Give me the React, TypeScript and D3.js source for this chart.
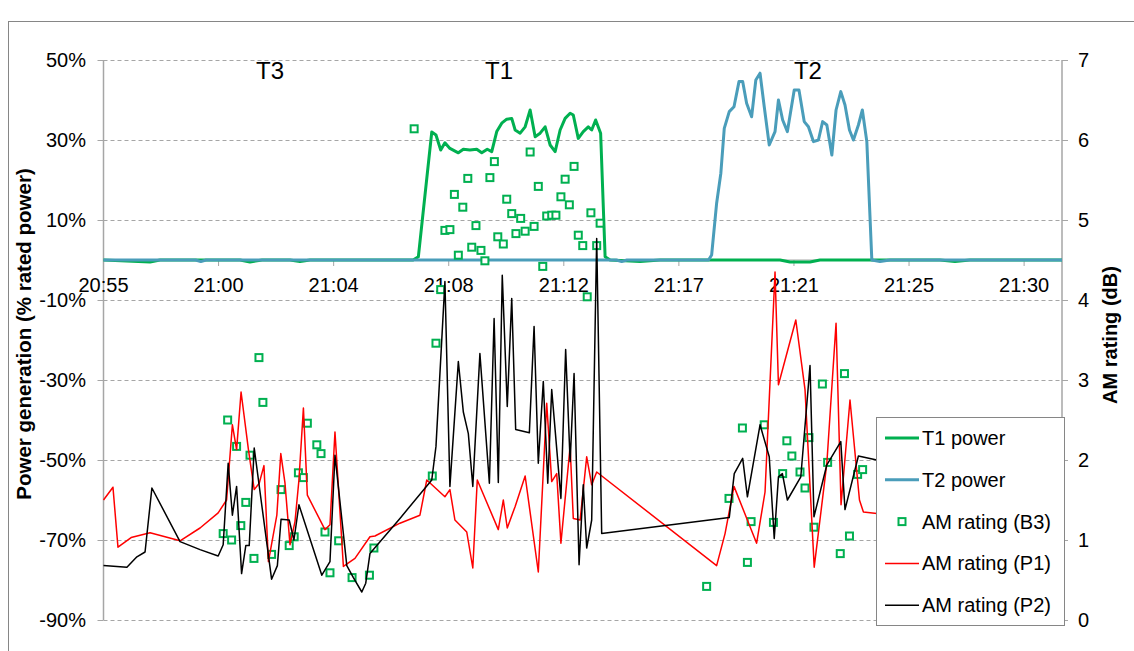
import React from "react";
import * as d3 from "d3";

// ---------- DATA (minutes after 20:55) ----------
const timeLabels = ["20:55", "21:00", "21:04", "21:08", "21:12", "21:17", "21:21", "21:25", "21:30"];
const tickStepMin = 35 / 8;
const leftTicks = [-90, -70, -50, -30, -10, 10, 30, 50];
const rightTicks = [0, 1, 2, 3, 4, 5, 6, 7];
const turbineLabels = ["T3", "T1", "T2"];
const turbineLabelMin = [6.33, 15.04, 26.78];

const t1Min = [0, 1.77, 2.15, 5.19, 5.57, 6.03, 7.09, 7.47, 7.85, 11.77, 11.97, 12.48, 12.64, 12.82, 12.98, 13.17, 13.49, 13.68, 13.93, 14.19, 14.38, 14.59, 14.76, 14.95, 15.14, 15.33, 15.52, 15.65, 15.84, 16.03, 16.22, 16.41, 16.6, 16.79, 16.98, 17.17, 17.36, 17.55, 17.74, 17.86, 18.05, 18.24, 18.43, 18.56, 18.71, 18.9, 19.07, 19.26, 20.4, 21.16, 25.72, 26.1, 26.86, 27.24, 31.8, 32.37, 32.94, 36.44];
const t1Pct = [0, -0.5, 0, 0, -0.5, 0, 0, -0.4, 0, 0, 0.8, 32, 31.25, 27.5, 29.3, 27.9, 26.8, 27.7, 27.5, 27.7, 26.8, 27.7, 27.1, 32.1, 34.2, 35.2, 35.4, 32.5, 31.7, 33.3, 37.5, 30.8, 31.7, 33.3, 28.75, 27.1, 32.5, 35.4, 36.7, 36.25, 30.4, 32.1, 33.3, 32.5, 35, 31.7, 0.8, 0, -0.4, 0, 0, -0.5, -0.5, 0, 0, -0.4, 0, 0];

const t2Min = [0, 3.5, 3.7, 3.9, 19.5, 19.7, 19.9, 23.0, 23.12, 23.31, 23.47, 23.6, 23.79, 23.97, 24.16, 24.3, 24.45, 24.64, 24.8, 24.96, 25.12, 25.31, 25.53, 25.66, 25.82, 26.0, 26.26, 26.44, 26.64, 26.8, 26.99, 27.18, 27.34, 27.5, 27.69, 27.85, 28.03, 28.19, 28.36, 28.51, 28.7, 28.85, 29.02, 29.21, 29.52, 29.9, 36.44];
const t2Pct = [0, 0, -0.4, 0, 0, -0.4, 0, 0, 1.25, 14.2, 21.7, 32.9, 37.1, 38.3, 44.6, 44.6, 39.2, 35.8, 45, 46.7, 38.3, 28.75, 32.1, 40, 35, 32.1, 42.5, 42.5, 34.6, 33.3, 29.6, 30, 34.6, 33.75, 26.25, 37.5, 42.1, 38.75, 32.5, 30, 33.75, 37.5, 29.6, 0, -0.4, 0, 0];

const b3Min = [5.91, 6.06, 4.72, 5.06, 5.57, 7.75, 8.11, 8.27, 7.41, 7.6, 6.75, 5.41, 4.55, 4.87, 5.22, 7.25, 7.06, 8.42, 8.94, 6.39, 5.72, 10.28, 8.61, 9.45, 10.11, 11.81, 16.22, 14.86, 17.89, 13.85, 14.69, 17.55, 13.34, 16.53, 17.39, 13.66, 15.33, 17.71, 15.52, 15.86, 16.85, 17.04, 17.2, 18.53, 18.88, 14.16, 12.98, 13.17, 16.37, 16.03, 15.68, 14.99, 15.2, 18.05, 18.22, 18.75, 14.0, 14.35, 13.49, 14.5, 16.7, 12.82, 18.39, 12.64, 12.5, 28.17, 27.33, 24.29, 25.12, 25.98, 26.82, 26.17, 27.53, 25.82, 26.48, 28.67, 28.86, 26.67, 23.78, 24.62, 25.47, 27.01, 28.36, 28.01, 24.48, 22.93];
const b3Db = [3.28, 2.72, 2.5, 2.17, 2.06, 2.46, 2.19, 2.08, 1.84, 1.78, 1.63, 1.47, 1.08, 1.0, 1.18, 1.04, 0.93, 1.1, 0.99, 0.82, 0.77, 0.9, 0.59, 0.53, 0.56, 6.14, 5.85, 5.73, 5.67, 5.52, 5.53, 5.51, 5.32, 5.42, 5.29, 5.16, 5.26, 5.19, 5.08, 5.02, 5.05, 5.06, 5.06, 5.09, 4.96, 4.93, 4.87, 4.88, 4.92, 4.86, 4.83, 4.79, 4.7, 4.81, 4.68, 4.68, 4.66, 4.62, 4.56, 4.49, 4.42, 4.13, 4.04, 3.46, 1.8, 3.08, 2.95, 2.4, 2.44, 2.24, 2.28, 2.05, 1.97, 1.83, 1.85, 1.82, 1.88, 1.65, 1.52, 1.23, 1.22, 1.16, 1.05, 0.83, 0.72, 0.42];

const p1Min = [0, 0.36, 0.55, 1.05, 1.77, 2.91, 3.67, 4.36, 4.68, 4.9, 5.06, 5.23, 5.51, 5.73, 5.92, 6.1, 6.27, 6.59, 6.74, 6.9, 7.09, 7.28, 7.43, 7.6, 7.75, 8.42, 8.61, 8.8, 9.12, 9.56, 10.13, 10.32, 11.27, 12.03, 12.29, 12.98, 13.17, 13.36, 13.81, 14.04, 14.21, 15.01, 15.2, 15.35, 15.65, 16.03, 16.53, 16.85, 17.04, 17.23, 17.39, 17.74, 17.86, 18.12, 18.37, 18.56, 18.75, 23.31, 23.63, 23.97, 24.83, 25.15, 25.53, 25.66, 26.32, 26.67, 27.02, 27.5, 27.85, 28.04, 28.38, 28.74, 28.89, 29.4, 30.28];
const p1Db = [1.5, 1.66, 0.91, 1.03, 1.09, 0.99, 1.15, 1.34, 1.5, 2.44, 2.13, 2.85, 2.13, 1.63, 1.71, 1.93, 0.73, 1.31, 2.08, 1.71, 0.94, 1.23, 1.75, 2.65, 1.56, 1.13, 1.19, 2.35, 0.67, 0.77, 1.04, 1.05, 1.21, 1.31, 1.75, 1.54, 1.63, 1.25, 1.1, 0.65, 1.75, 1.13, 1.5, 1.15, 1.42, 1.8, 0.6, 2.71, 1.73, 1.83, 0.96, 2.17, 1.27, 1.25, 2.04, 1.69, 1.85, 0.68, 1.08, 1.67, 0.96, 1.6, 4.35, 2.94, 3.75, 2.88, 0.66, 1.96, 3.71, 1.44, 2.75, 1.5, 1.35, 1.33, 1.3];

const p2Min = [0, 0.89, 1.27, 1.58, 1.84, 2.91, 3.67, 4.36, 4.55, 4.74, 4.9, 5.06, 5.25, 5.41, 5.54, 5.73, 6.39, 6.61, 6.75, 7.06, 7.24, 7.43, 8.3, 8.61, 8.8, 9.25, 9.5, 9.82, 9.97, 10.13, 11.27, 12.48, 12.64, 12.98, 13.17, 13.49, 13.68, 13.87, 14.04, 14.31, 14.67, 14.85, 15.01, 15.16, 15.35, 15.52, 15.67, 16.19, 16.37, 16.53, 16.72, 16.89, 17.04, 17.39, 17.57, 17.74, 17.89, 18.08, 18.24, 18.37, 18.56, 18.75, 18.94, 23.79, 23.98, 24.3, 24.48, 24.96, 25.31, 25.5, 25.66, 25.81, 26.0, 26.51, 26.86, 27.01, 27.5, 28.03, 28.19, 28.7, 29.4, 30.28];
const p2Db = [0.68, 0.66, 0.79, 0.85, 1.65, 0.98, 0.88, 0.8, 0.94, 1.96, 1.31, 1.67, 0.58, 0.93, 0.93, 2.15, 0.51, 0.68, 1.26, 1.25, 1.0, 1.44, 0.56, 0.73, 2.06, 0.68, 0.53, 0.35, 0.46, 0.83, 1.27, 1.75, 2.17, 4.23, 1.67, 3.23, 2.6, 2.33, 1.67, 3.33, 1.71, 3.77, 1.72, 4.31, 2.67, 4.02, 2.38, 2.34, 3.67, 1.96, 2.98, 1.71, 2.88, 1.52, 3.38, 1.98, 3.08, 0.69, 1.69, 0.9, 1.25, 4.77, 1.08, 1.28, 1.83, 2.02, 1.54, 2.44, 2.04, 1.02, 1.79, 1.83, 1.5, 1.79, 3.18, 1.29, 1.94, 2.23, 1.38, 2.05, 2.0, 1.98];

const legendLabels = ["T1 power", "T2 power", "AM rating (B3)", "AM rating (P1)", "AM rating (P2)"];

// ---------- STYLE ----------
const GREEN = "#00B050";
const TEAL = "#4A9DBA";
const RED = "#FF0000";
const BLACK = "#000000";
const FONT = "'Liberation Sans', Arial, sans-serif";

const W = 1134;
const H = 651;

export default function App() {
  const x = d3.scaleLinear().domain([0, 36.44]).range([103.5, 1062]);
  const yL = d3.scaleLinear().domain([-90, 50]).range([620, 60]);
  const yR = d3.scaleLinear().domain([0, 7]).range([620, 60]);

  const lineL = d3
    .line<[number, number]>()
    .x((d) => x(d[0]))
    .y((d) => yL(d[1]));
  const lineR = d3
    .line<[number, number]>()
    .x((d) => x(d[0]))
    .y((d) => yR(d[1]));

  const zip = (a: number[], b: number[]) => a.map((v, i) => [v, b[i]] as [number, number]);

  const t1 = zip(t1Min, t1Pct);
  const t2 = zip(t2Min, t2Pct);
  const b3 = zip(b3Min, b3Db);
  const p1 = zip(p1Min, p1Db);
  const p2 = zip(p2Min, p2Db);

  const [x0, x1] = x.range();
  const y0 = yL(0);

  const legX = 876;
  const legY = 417;
  const legW = 188;
  const legH = 208;
  const legRowY = (i: number) => 438 + i * 41.8;

  return (
    <svg
      width={W}
      height={H}
      style={{ position: "absolute", left: 0, top: 0, background: "#fff" }}
      fontFamily={FONT}
    >
      <rect x={0} y={0} width={W} height={H} fill="#fff" />
      <rect x={8.5} y={21.5} width={1200} height={700} fill="#fff" stroke="#868686" strokeWidth={1} />

      {/* gridlines */}
      {leftTicks.map((t) => (
        <line
          key={"g" + t}
          x1={x0}
          x2={x1}
          y1={yL(t) + 0.5}
          y2={yL(t) + 0.5}
          stroke="#A6A6A6"
          strokeWidth={1}
          strokeDasharray="4,3"
        />
      ))}

      {/* left axis */}
      <line x1={x0} x2={x0} y1={yL(50)} y2={yL(-90)} stroke="#A6A6A6" strokeWidth={1.5} />
      {leftTicks.map((t) => (
        <g key={"l" + t}>
          <line x1={x0 - 6} x2={x0} y1={yL(t) + 0.5} y2={yL(t) + 0.5} stroke="#A6A6A6" />
          <text x={86} y={yL(t) + 7} textAnchor="end" fontSize={20} fill="#000">
            {t + "%"}
          </text>
        </g>
      ))}

      {/* right axis */}
      <line x1={x1} x2={x1} y1={yR(7)} y2={yR(0)} stroke="#A6A6A6" strokeWidth={1.5} />
      {rightTicks.map((t) => (
        <g key={"r" + t}>
          <line x1={x1} x2={x1 + 6} y1={yR(t) + 0.5} y2={yR(t) + 0.5} stroke="#A6A6A6" />
          <text x={1078} y={yR(t) + 7} textAnchor="start" fontSize={20} fill="#000">
            {t}
          </text>
        </g>
      ))}

      {/* time axis at 0% */}
      <line x1={x0} x2={x1} y1={y0} y2={y0} stroke="#A6A6A6" strokeWidth={1} />
      {timeLabels.map((lab, i) => {
        const px = x(i * tickStepMin);
        return (
          <g key={"t" + i}>
            <line x1={px} x2={px} y1={y0} y2={y0 + 6} stroke="#A6A6A6" />
            <text x={px} y={292} textAnchor="middle" fontSize={20} fill="#000">
              {lab}
            </text>
          </g>
        );
      })}

      {/* axis titles */}
      <text
        transform={`translate(31,${334}) rotate(-90)`}
        textAnchor="middle"
        fontSize={20.5}
        fontWeight="bold"
        fill="#000"
      >
        Power generation (% rated power)
      </text>
      <text
        transform={`translate(1117,${335}) rotate(-90)`}
        textAnchor="middle"
        fontSize={20}
        fontWeight="bold"
        fill="#000"
      >
        AM rating (dB)
      </text>

      {/* turbine labels */}
      {turbineLabels.map((lab, i) => (
        <text key={lab} x={x(turbineLabelMin[i])} y={79} textAnchor="middle" fontSize={24} fill="#000">
          {lab}
        </text>
      ))}

      {/* power lines */}
      <path d={lineL(t1) || ""} fill="none" stroke={GREEN} strokeWidth={3} strokeLinejoin="round" />
      <path d={lineL(t2) || ""} fill="none" stroke={TEAL} strokeWidth={3} strokeLinejoin="round" />

      {/* B3 markers */}
      {b3.map((d, i) => (
        <rect
          key={"b" + i}
          x={x(d[0]) - 3.5}
          y={yR(d[1]) - 3.5}
          width={7}
          height={7}
          fill="#fff"
          stroke={GREEN}
          strokeWidth={2}
        />
      ))}

      {/* AM lines */}
      <path d={lineR(p1) || ""} fill="none" stroke={RED} strokeWidth={1.5} strokeLinejoin="round" />
      <path d={lineR(p2) || ""} fill="none" stroke={BLACK} strokeWidth={1.5} strokeLinejoin="round" />

      {/* legend */}
      <rect x={legX + 0.5} y={legY + 0.5} width={legW} height={legH} fill="#fff" stroke="#868686" />
      {legendLabels.map((lab, i) => {
        const cy = legRowY(i);
        let marker;
        if (i === 2) {
          marker = <rect x={898.5} y={cy - 3.5} width={7} height={7} fill="#fff" stroke={GREEN} strokeWidth={2} />;
        } else {
          const col = [GREEN, TEAL, null, RED, BLACK][i] as string;
          const sw = i < 2 ? 3 : 1.5;
          marker = <line x1={885} x2={919} y1={cy} y2={cy} stroke={col} strokeWidth={sw} />;
        }
        return (
          <g key={lab}>
            {marker}
            <text x={922} y={cy + 7} fontSize={20} fill="#000">
              {lab}
            </text>
          </g>
        );
      })}
    </svg>
  );
}
